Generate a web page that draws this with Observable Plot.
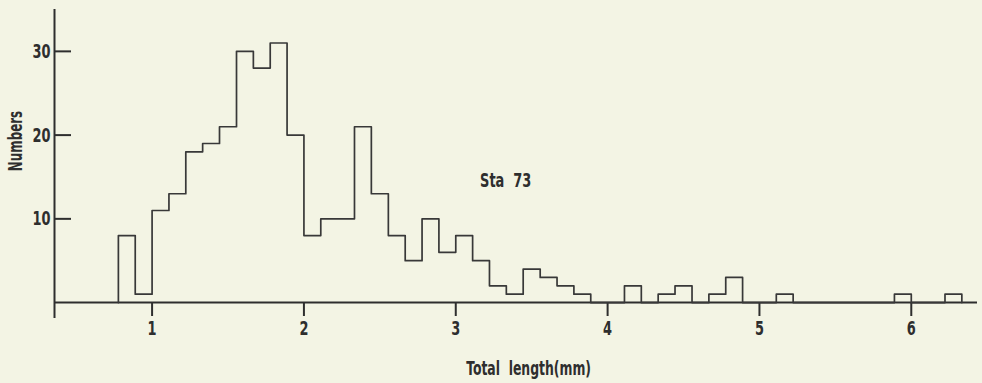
<!DOCTYPE html>
<html>
<head>
<meta charset="utf-8">
<script src="https://cdn.jsdelivr.net/npm/d3@7"></script>
<script src="https://cdn.jsdelivr.net/npm/@observablehq/plot@0.6"></script>
<style>
  html, body { margin: 0; padding: 0; background: #f3f4e4; }
  svg { display: block; }
</style>
</head>
<body>
<div id="chart"></div>
<script>
// Bin left edges (mm) and counts
const binStarts = [0.778, 0.889, 1.000, 1.111, 1.222, 1.333, 1.444, 1.556, 1.667, 1.778,
  1.889, 2.000, 2.111, 2.222, 2.333, 2.444, 2.556, 2.667, 2.778, 2.889,
  3.000, 3.111, 3.222, 3.333, 3.444, 3.556, 3.667, 3.778, 3.889, 4.000,
  4.111, 4.222, 4.333, 4.444, 4.556, 4.667, 4.778, 4.889, 5.000, 5.111,
  5.222, 5.333, 5.444, 5.556, 5.667, 5.778, 5.889, 6.000, 6.111, 6.222];
const binEnd = 6.333;
const counts = [8, 1, 11, 13, 18, 19, 21, 30, 28, 31,
  20, 8, 10, 10, 21, 13, 8, 5, 10, 6,
  8, 5, 2, 1, 4, 3, 2, 1, 0, 0,
  2, 0, 1, 2, 0, 1, 3, 0, 0, 1,
  0, 0, 0, 0, 0, 0, 1, 0, 0, 1];
const xTicks = [1, 2, 3, 4, 5, 6];
const yTicks = [10, 20, 30];
const stationLabel = "Sta  73";
const xLabel = "Total  length(mm)";
const yLabel = "Numbers";

// outline points for a step-after curve
const outline = [{x: binStarts[0], y: 0}];
binStarts.forEach((s, i) => outline.push({x: s, y: counts[i]}));
outline.push({x: binEnd, y: 0});

const ink = "#2e2e2e";
const font = "'Liberation Sans Narrow', 'DejaVu Sans Condensed', 'Arial Narrow', sans-serif";

const chart = Plot.plot({
  width: 982,
  height: 383,
  marginLeft: 54,
  marginRight: 5,
  marginTop: 9,
  marginBottom: 65,
  x: {domain: [0.3573, 6.4361]},
  y: {domain: [-1.9, 35]},
  style: {background: "#f3f4e4", fontFamily: font, fontWeight: "bold", color: ink},
  marks: [
    // axes lines
    Plot.ruleY([0], {stroke: ink, strokeWidth: 2}),
    Plot.ruleX([0.3573], {stroke: ink, strokeWidth: 2}),
    // y ticks pointing inward
    Plot.tickY(yTicks, {y: d => d, stroke: ink, strokeWidth: 2, insetRight: 906}),
    // x ticks pointing down from baseline
    Plot.tickX(xTicks, {x: d => d, stroke: ink, strokeWidth: 2, insetTop: 293, insetBottom: 2}),
    Plot.axisY({ticks: yTicks, tickSize: 0, tickPadding: 4, label: null, fontSize: 20, fill: ink}),
    Plot.axisX({ticks: xTicks, tickSize: 0, tickPadding: 2, label: null, fontSize: 20, fill: ink, tickFormat: d => String(d)}),
    // histogram outline
    Plot.line(outline, {x: "x", y: "y", curve: "step-after", stroke: "#383838", strokeWidth: 1.7}),
    // annotations
    Plot.text([stationLabel], {x: 3.16, y: 14.6, text: d => d, textAnchor: "start", fontSize: 20, fill: ink}),
    Plot.text([xLabel], {x: 3.48, frameAnchor: "bottom", dy: 56, text: d => d, fontSize: 20, fill: ink}),
    Plot.text([yLabel], {frameAnchor: "left", textAnchor: "middle", rotate: -90, dx: -39, dy: -23, text: d => d, fontSize: 20, fill: ink})
  ]
});
document.getElementById("chart").appendChild(chart);

// condense the lettering to mimic the narrow typeface of the original
const squeeze = new Map([[xLabel, 0.69], [yLabel, 0.66]]);
d3.select(chart).selectAll("text").each(function () {
  const w = this.getComputedTextLength();
  if (w > 0) {
    const r = squeeze.get(this.textContent) ?? 0.72;
    this.setAttribute("textLength", (w * r).toFixed(1));
    this.setAttribute("lengthAdjust", "spacingAndGlyphs");
  }
});
</script>
</body>
</html>
